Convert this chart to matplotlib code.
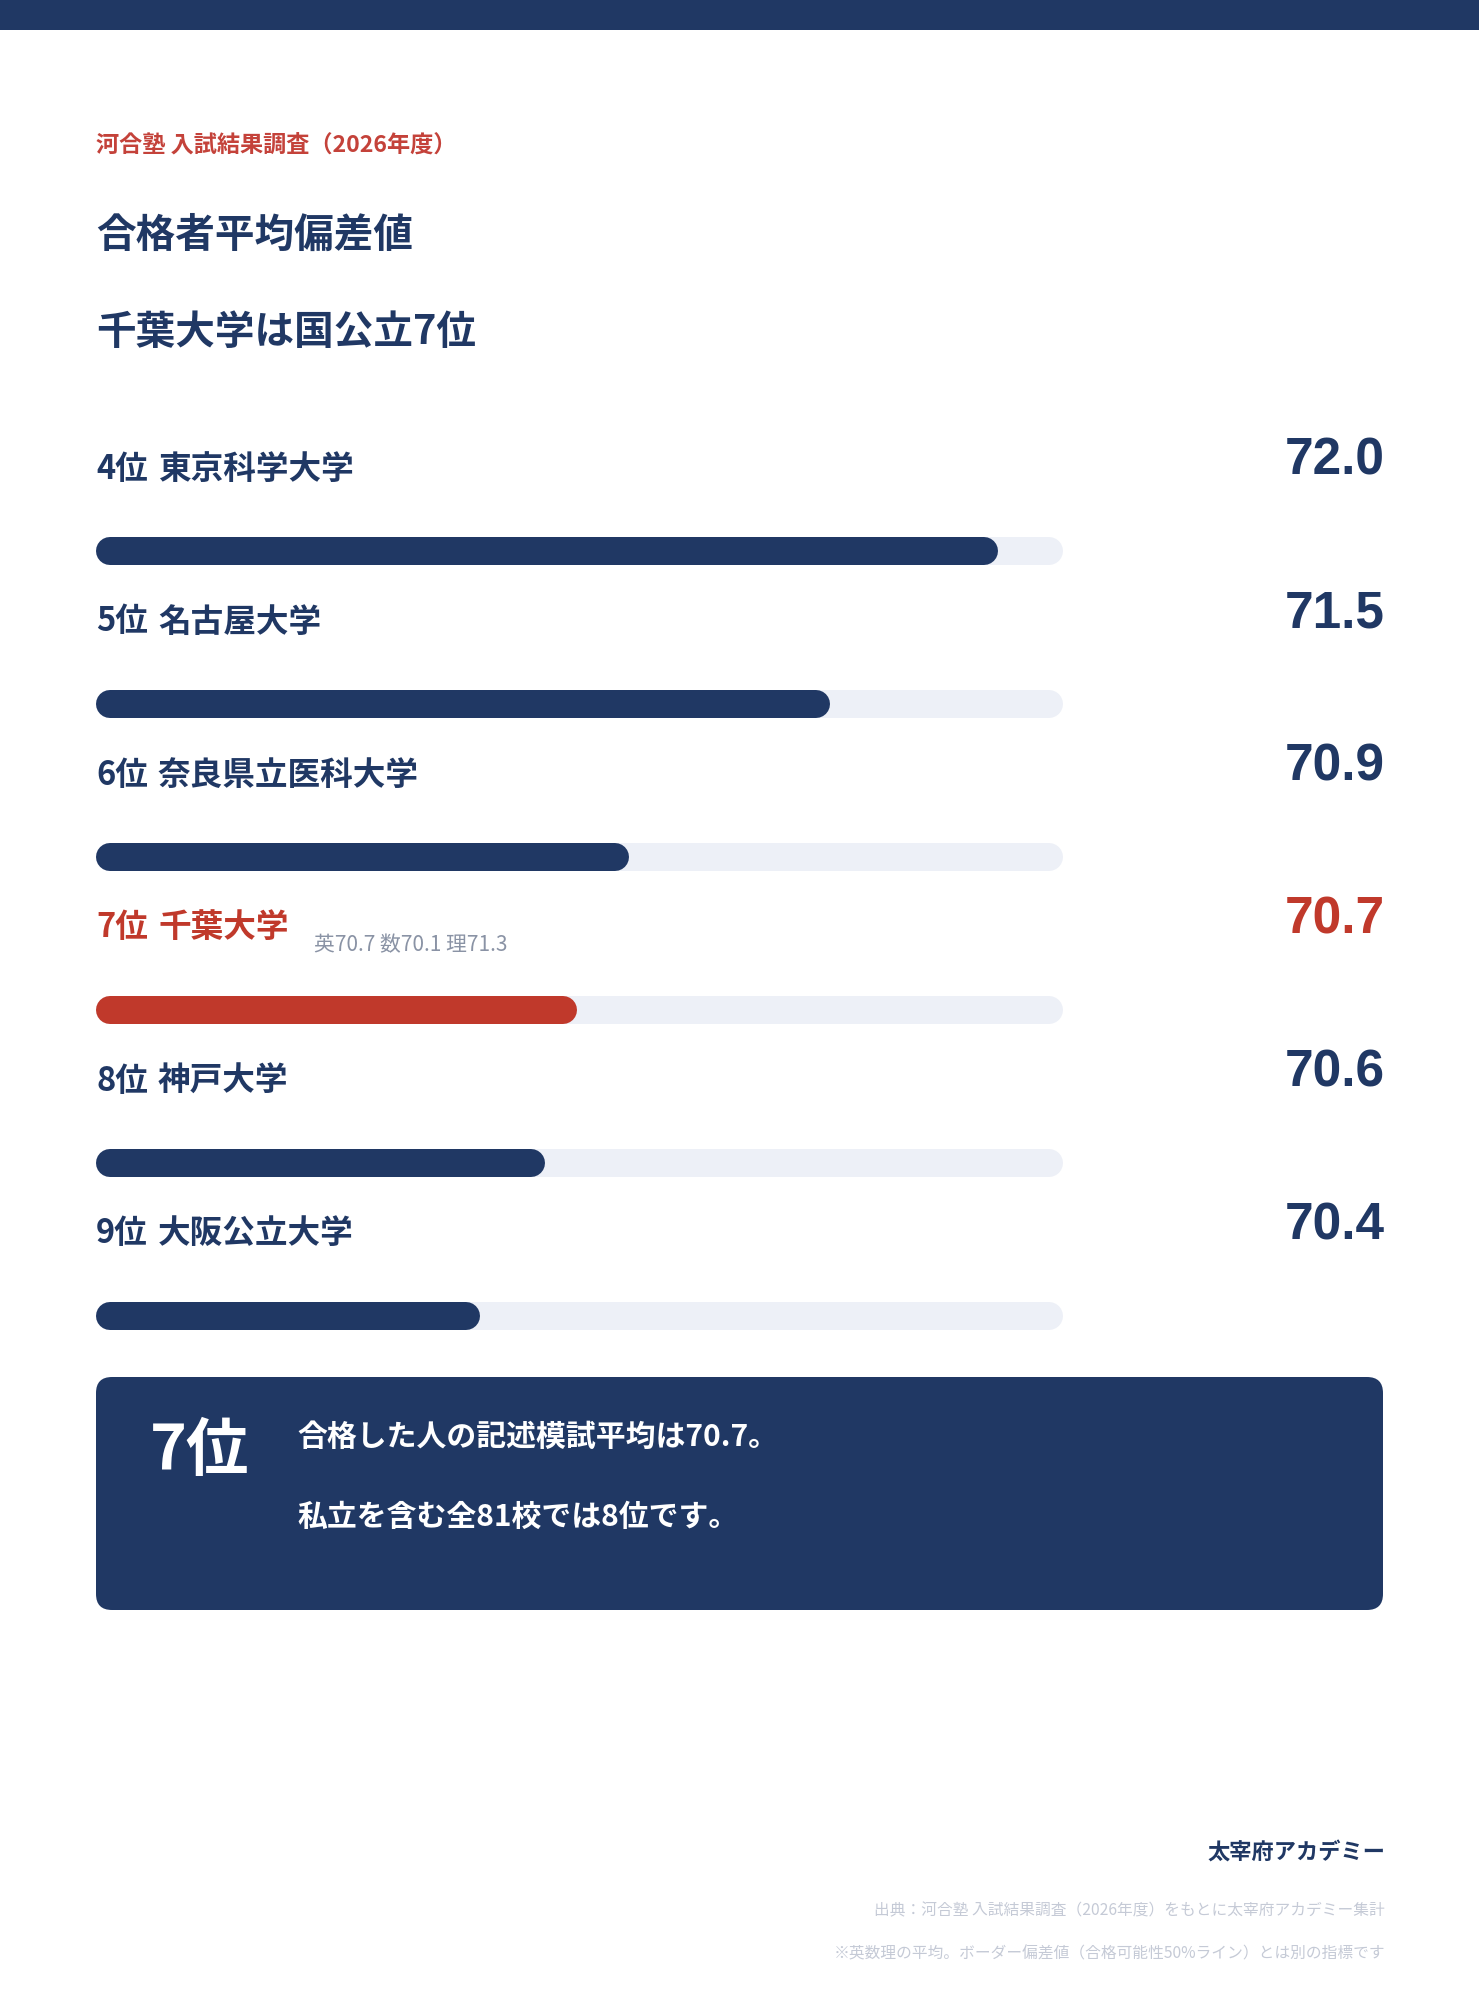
import matplotlib
matplotlib.use("Agg")
import matplotlib.pyplot as plt
from matplotlib.patches import Rectangle, FancyBboxPatch
from matplotlib.transforms import blended_transform_factory

plt.rcParams['font.family'] = ['Noto Sans CJK JP', 'DejaVu Sans']

# data (bar lengths; labels show them rounded to 0.1)
ranks = ['4位', '5位', '6位', '7位', '8位', '9位']
schools = ['東京科学大学', '名古屋大学', '奈良県立医科大学', '千葉大学', '神戸大学', '大阪公立大学']
scores = [72.0, 71.48, 70.86, 70.70, 70.60, 70.40]
highlight = '千葉大学'
chiba_sub = '英70.7 数70.1 理71.3'
scale_min, scale_max = 69.3, 72.2

NAVY = '#203864'
RED = '#c0392b'
TRACK = '#edf0f7'
GRAY = '#8a93a5'
LIGHT = '#c5cad6'

W, H = 1479, 2000
fig = plt.figure(figsize=(W / 100, H / 100), dpi=100)
fig.patch.set_facecolor('white')

# layout layer in pixel coordinates
bg = fig.add_axes([0, 0, 1, 1])
bg.set_xlim(0, W)
bg.set_ylim(H, 0)
bg.axis('off')

bg.add_patch(Rectangle((0, 0), W, 30, color=NAVY, lw=0))

bg.text(96, 146, '河合塾 入試結果調査（2026年度）', color='#c4423a', fontsize=16.7,
        fontweight='bold', va='center', ha='left')
bg.text(96, 235, '合格者平均偏差値', color=NAVY, fontsize=28.5,
        fontweight='bold', va='center', ha='left')
bg.text(96, 332, '千葉大学は国公立7位', color=NAVY, fontsize=28.5,
        fontweight='bold', va='center', ha='left')

# bar rows
row_px = 153
top_center = 551
bar_left, bar_right = 110, 1049
ax = fig.add_axes([bar_left / W, 1 - (top_center + row_px * 5.5) / H,
                   (bar_right - bar_left) / W, row_px * 6 / H])
ax.set_xlim(scale_min, scale_max)
ax.set_ylim(len(scores) - 0.5, -0.5)
ax.axis('off')
ax.patch.set_alpha(0)

lw_pt = 28 * 72 / 100
trans = blended_transform_factory(bg.transData, ax.transData)
for i, (rk, name, v) in enumerate(zip(ranks, schools, scores)):
    col = RED if name == highlight else NAVY
    ax.plot([scale_min, scale_max], [i, i], color=TRACK, lw=lw_pt,
            solid_capstyle='round', zorder=1, clip_on=False)
    ax.plot([scale_min, v], [i, i], color=col, lw=lw_pt,
            solid_capstyle='round', zorder=2, clip_on=False)
    ax.text(96, i - 82 / row_px, rk, transform=trans, color=col,
            fontsize=23.5, fontweight='bold', va='center', ha='left')
    ax.text(158, i - 82 / row_px, name, transform=trans, color=col,
            fontsize=23.5, fontweight='bold', va='center', ha='left')
    ax.text(1385, i - 90 / row_px, f'{v:.1f}', transform=trans, color=col,
            fontsize=37, fontweight='bold', va='center', ha='right',
            family=['Liberation Sans', 'DejaVu Sans'])
    if name == highlight:
        ax.text(314, i - 65 / row_px, chiba_sub, transform=trans, color=GRAY,
                fontsize=15, va='center', ha='left')

# callout box
bg.add_patch(FancyBboxPatch((96, 1377), 1287, 233,
                            boxstyle='round,pad=0,rounding_size=16',
                            fc=NAVY, ec='none'))
bg.text(150, 1451, '7位', color='white', fontsize=45, fontweight='bold',
        va='center', ha='left')
bg.text(297, 1437, '合格した人の記述模試平均は70.7。', color='white', fontsize=21.5,
        fontweight='bold', va='center', ha='left')
bg.text(297, 1517, '私立を含む全81校では8位です。', color='white', fontsize=21.5,
        fontweight='bold', va='center', ha='left')

# footer
bg.text(1385, 1852, '太宰府アカデミー', color=NAVY, fontsize=16,
        fontweight='bold', va='center', ha='right')
bg.text(1385, 1911, '出典：河合塾 入試結果調査（2026年度）をもとに太宰府アカデミー集計',
        color=LIGHT, fontsize=11.3, va='center', ha='right')
bg.text(1385, 1954, '※英数理の平均。ボーダー偏差値（合格可能性50%ライン）とは別の指標です',
        color=LIGHT, fontsize=11.3, va='center', ha='right')

fig.savefig('out.png', dpi=100, facecolor='white')
